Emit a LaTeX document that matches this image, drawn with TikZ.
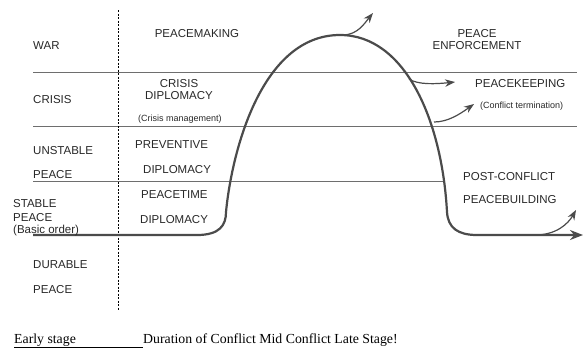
\documentclass[tikz,border=0pt]{standalone}
\usepackage{fontspec}
\setmainfont{Liberation Sans}
\newfontfamily\serifface{Liberation Serif}
\usetikzlibrary{arrows.meta}
\definecolor{txtc}{RGB}{40,40,40}
\definecolor{curvec}{RGB}{75,75,75}
\definecolor{linec}{RGB}{110,110,110}
\tikzset{
  lbl/.style={inner sep=0pt, text=txtc, font=\fontsize{11.5}{13}\selectfont},
  lblw/.style={lbl, anchor=base west},
  lblc/.style={lbl, anchor=base},
  small/.style={inner sep=0pt, text=txtc, font=\fontsize{9}{11}\selectfont},
  bottomtxt/.style={inner sep=0pt, text=black, font=\serifface\fontsize{13.8}{16}\selectfont, anchor=base west},
  levelline/.style={draw=linec, line width=0.8pt},
  mainline/.style={draw=curvec, line width=2.2pt},
  branch/.style={draw=curvec, line width=1.2pt, -{Stealth[length=10pt,width=7.5pt]}},
}
\begin{document}
\begin{tikzpicture}[x=1pt,y=-1pt]
\useasboundingbox (0,0) rectangle (583,349);
% level lines
\coordinate (l1a) at (33,72);  \coordinate (l1b) at (577,72);
\coordinate (l2a) at (33,126); \coordinate (l2b) at (577,126);
\coordinate (l3a) at (33,181); \coordinate (l3b) at (443,181);
\draw[levelline] (l1a) -- (l1b);
\draw[levelline] (l2a) -- (l2b);
\draw[levelline] (l3a) -- (l3b);
% dashed divider
\coordinate (dv1) at (118,10); \coordinate (dv2) at (118,310);
\draw[draw=black, line width=0.7pt, dash pattern=on 2pt off 1.5pt] (dv1) -- (dv2);
% main curve
\coordinate (start) at (33,235);
\coordinate (lc) at (197,235);
\coordinate (lb) at (226,212);
\coordinate (peak) at (340,35);
\coordinate (rb) at (447,212);
\coordinate (rc) at (477,235);
\coordinate (endp) at (583,235);
\draw[mainline, -{Stealth[length=13pt,width=10pt]}] (start) -- (lc)
  .. controls (220,235) and (226,225) .. (lb)
  .. controls (232,150) and (262,35) .. (peak)
  .. controls (405,35) and (442,120) .. (rb)
  .. controls (448,228) and (458,235) .. (rc) -- (endp);
% branch arrows
\coordinate (b1s) at (344,35);  \coordinate (b1e) at (373,13);
\coordinate (b2s) at (409,79);  \coordinate (b2e) at (455,82);
\coordinate (b3s) at (434,122); \coordinate (b3e) at (474,104);
\coordinate (b4s) at (535,235); \coordinate (b4e) at (576,210);
\draw[branch] (b1s) .. controls (358,34) and (364,24) .. (b1e);
\draw[branch] (b2s) .. controls (418,85) and (436,84) .. (b2e);
\draw[branch] (b3s) .. controls (448,122) and (460,114) .. (b3e);
\draw[branch] (b4s) .. controls (556,235) and (568,224) .. (b4e);
% left labels
\node[lblw] (war) at (33,49) {WAR};
\node[lblw] (crisis) at (33,103) {CRISIS};
\node[lblw] (unstable) at (33,154) {UNSTABLE};
\node[lblw] (upeace) at (33,178) {PEACE};
\node[lblw] (stable) at (13,207) {STABLE};
\node[lblw] (speace) at (13,221) {PEACE};
\node[lblw] (basic) at (13,233) {(Basic order)};
\node[lblw] (durable) at (33,268) {DURABLE};
\node[lblw] (dpeace) at (33,293) {PEACE};
% middle labels
\node[lblc] (pmaking) at (197,37) {PEACEMAKING};
\node[lblc] (cd1) at (179,87) {CRISIS};
\node[lblc] (cd2) at (179,99) {DIPLOMACY};
\node[small, anchor=base] (cman) at (180,121) {(Crisis management)};
\node[lblw] (prev) at (135,148) {PREVENTIVE};
\node[lblw] (pdip) at (143,173) {DIPLOMACY};
\node[lblw] (ptime) at (141,198) {PEACETIME};
\node[lblw] (ptdip) at (140,223) {DIPLOMACY};
% right labels
\node[lblc] (pe1) at (477,37) {PEACE};
\node[lblc] (pe2) at (477,49) {ENFORCEMENT};
\node[lblw] (pkeep) at (475,87) {PEACEKEEPING};
\node[small, anchor=base west] (cterm) at (480,108) {(Conflict termination)};
\node[lblw] (post) at (463,180) {POST-CONFLICT};
\node[lblw] (pbuild) at (463,203) {PEACEBUILDING};
% bottom
\node[bottomtxt] (early) at (14,343) {Early stage};
\node[bottomtxt] (dur) at (143,343) {Duration of Conflict Mid Conflict Late Stage!};
\coordinate (ul1) at (14,347); \coordinate (ul2) at (143,347);
\draw[black, line width=0.6pt] (ul1) -- (ul2);
\end{tikzpicture}
\end{document}
